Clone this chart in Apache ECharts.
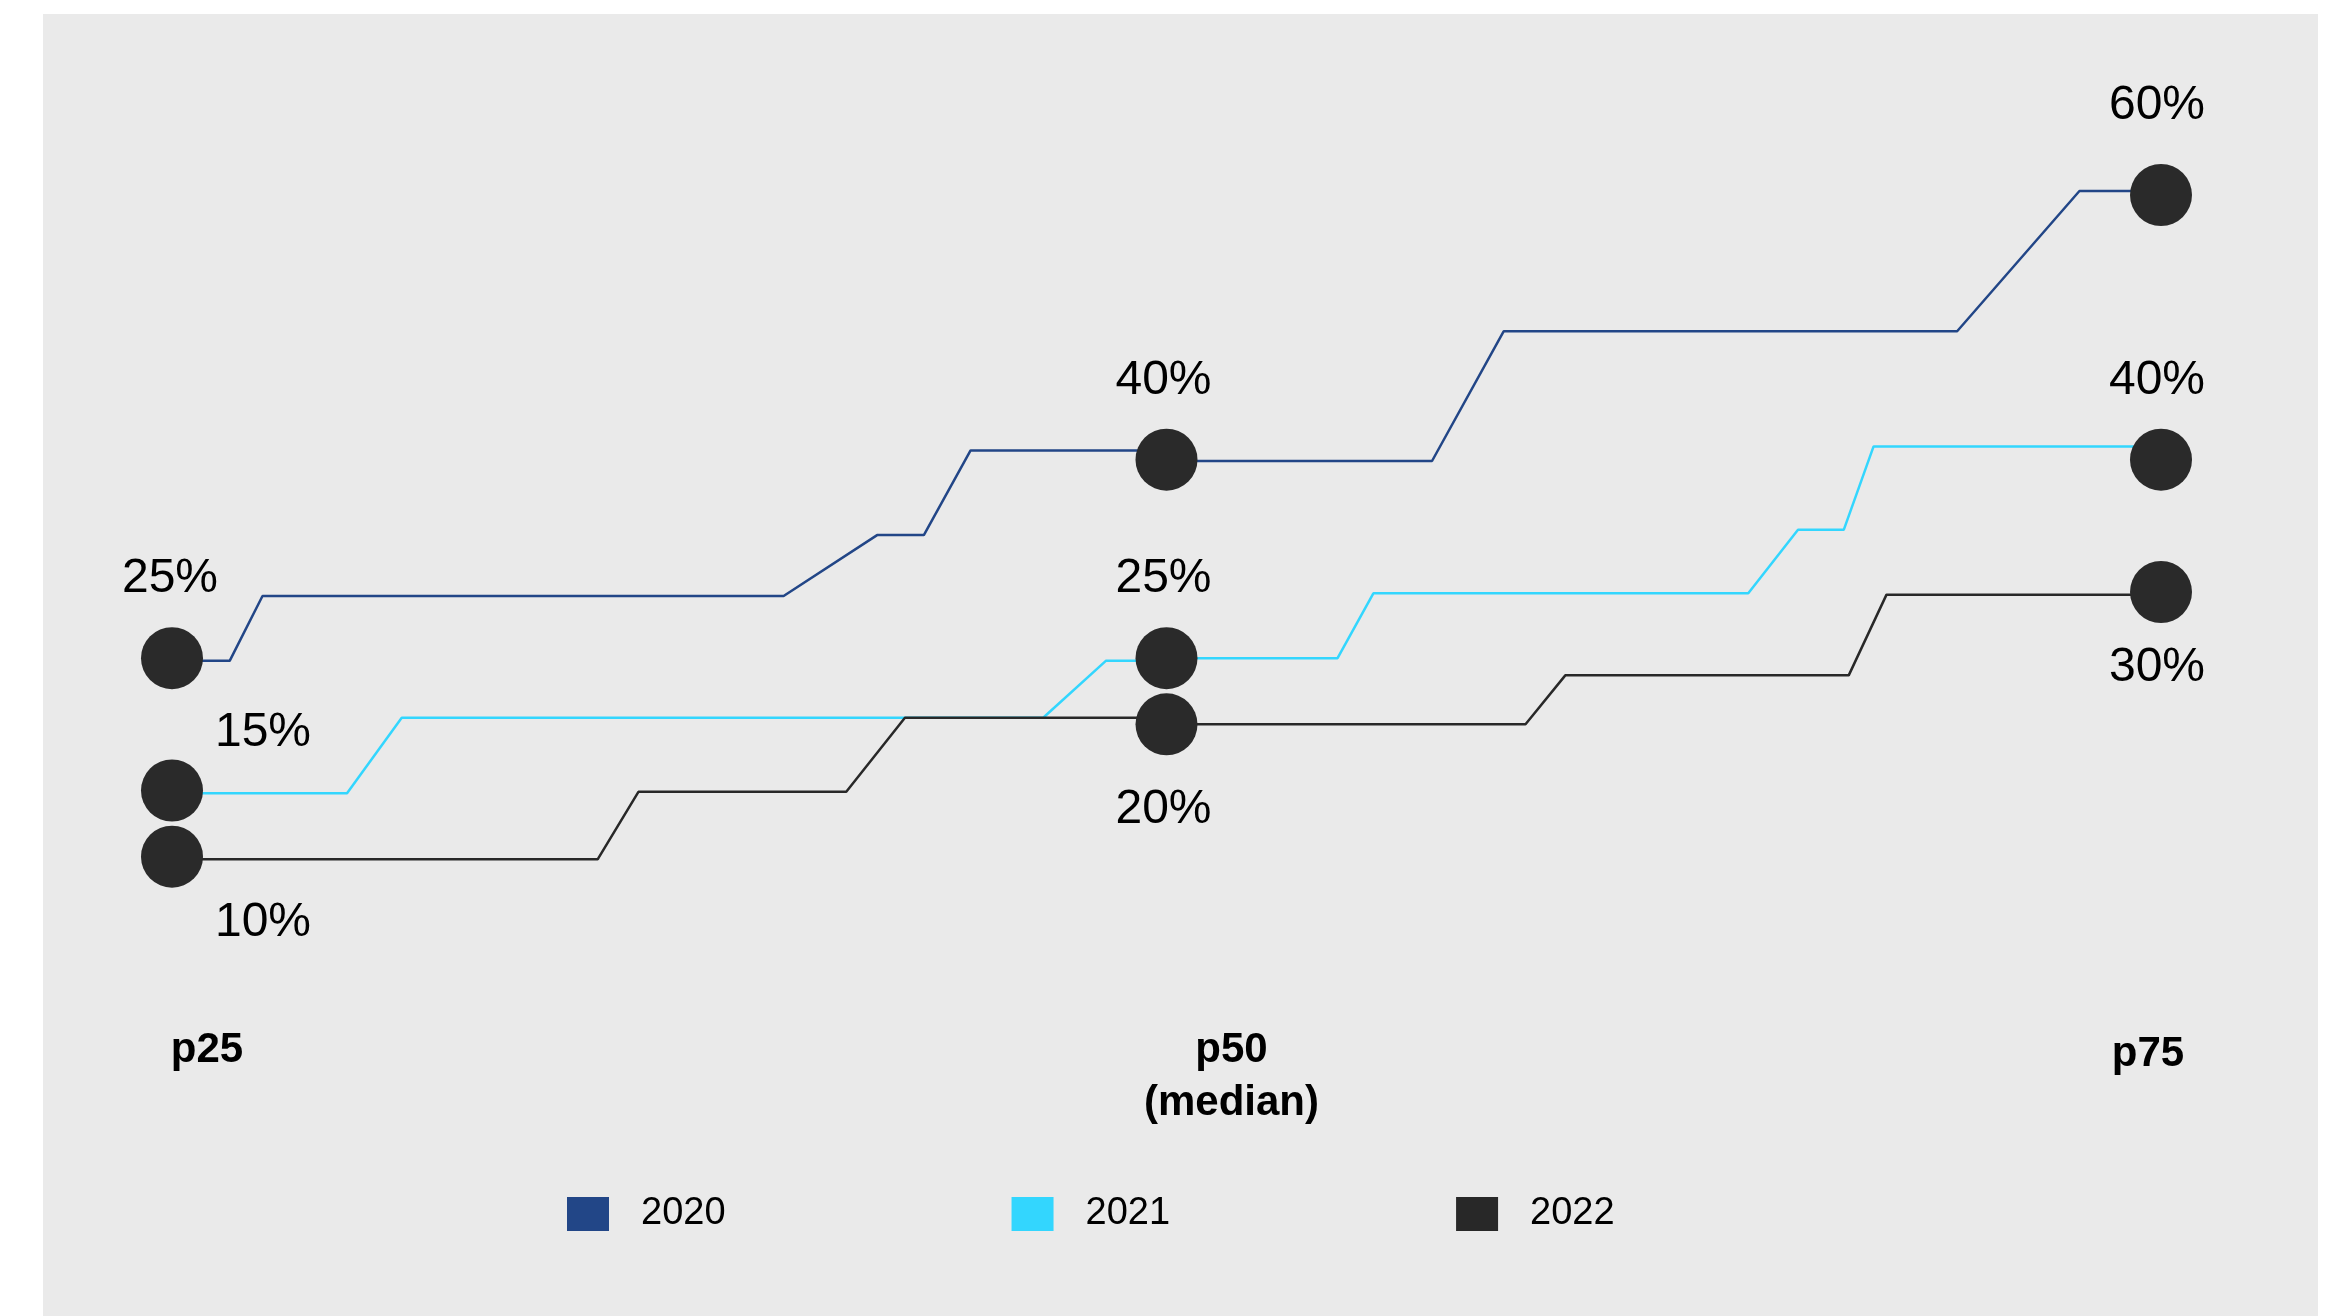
<!DOCTYPE html>
<html>
<head>
<meta charset="utf-8">
<script src="https://cdn.jsdelivr.net/npm/echarts@6/dist/echarts.min.js"></script>
<style>
  html, body { margin: 0; padding: 0; background: #ffffff; width: 2331px; height: 1316px; overflow: hidden; }
  #chart { position: absolute; left: 43px; top: 14px; width: 2275px; height: 1302px; background: #eaeaea; }
</style>
</head>
<body>
<div id="chart"></div>
<script>
// Percentile positions along the x axis (0 = p25, 1 = p50, 2 = p75)
const percentiles = [0, 1, 2];
const tickLabels = ['p25', 'p50\n(median)', 'p75'];
const years = ['2020', '2021', '2022'];

// Percentile values per year (%)
const values2020 = [25, 40, 60];
const values2021 = [15, 25, 40];
const values2022 = [10, 20, 30];

// Stepped connector paths between the percentile points: [position, %]
const path2020 = [[0, 24.8], [0.058, 24.8], [0.091, 29.7], [0.615, 29.7], [0.709, 34.3], [0.756, 34.3],
  [0.803, 40.7], [1, 40.7], [1, 39.9], [1.267, 39.9], [1.339, 49.7], [1.795, 49.7], [1.918, 60.3], [2, 60.3]];
const path2021 = [[0, 14.8], [0.176, 14.8], [0.231, 20.5], [0.876, 20.5], [0.939, 24.8], [1, 24.8],
  [1, 25], [1.172, 25], [1.208, 29.9], [1.585, 29.9], [1.635, 34.7], [1.681, 34.7], [1.711, 41.0], [2, 41.0]];
const path2022 = [[0, 9.8], [0.428, 9.8], [0.469, 14.9], [0.678, 14.9], [0.737, 20.5], [1, 20.5],
  [1, 20], [1.361, 20], [1.401, 23.7], [1.686, 23.7], [1.724, 29.8], [2, 29.8]];

const colors = ['#224687', '#33d6fe', '#282828'];
const FONT = "'Liberation Sans', Arial, Helvetica, sans-serif";

// Where each value label sits relative to its dot (text centre offset, px)
const labelOffsets = [
  [[-2, -79], [-3, -79], [-4, -89]],
  [[91, -58], [-3, -79], [-4, -79]],
  [[91, 66], [-3, 85], [-4, 76]]
];

const valueSets = [values2020, values2021, values2022];
const paths = [path2020, path2021, path2022];

const lineSeries = years.map((y, i) => ({
  name: y,
  type: 'line',
  data: paths[i],
  symbol: 'none',
  showSymbol: false,
  clip: false,
  z: 2 + i,
  itemStyle: { color: colors[i] },
  lineStyle: { color: colors[i], width: 2.5, opacity: 1 },
  emphasis: { disabled: true }
}));

const dotSeries = years.map((y, i) => ({
  name: y + '-dots',
  type: 'scatter',
  symbol: 'circle',
  symbolSize: 62,
  clip: false,
  z: 10,
  itemStyle: { color: '#2a2a2a', opacity: 1 },
  data: percentiles.map((p, j) => ({
    value: [p, valueSets[i][j]],
    label: {
      show: true,
      position: 'inside',
      offset: labelOffsets[i][j],
      align: 'center',
      verticalAlign: 'middle',
      formatter: (d) => d.value[1] + '%',
      color: '#000000',
      opacity: 1,
      fontFamily: FONT,
      fontSize: 48
    }
  })),
  emphasis: { disabled: true }
}));

const richKeys = ['l', 'm', 'r'];
const tickStyle = { fontFamily: FONT, fontSize: 42, fontWeight: 'bold', color: '#000000', lineHeight: 53 };

const chart = echarts.init(document.getElementById('chart'), null, { renderer: 'canvas' });
chart.setOption({
  animation: false,
  backgroundColor: 'transparent',
  grid: { left: 129, right: 157, top: 181, bottom: 327 },
  xAxis: {
    type: 'value',
    min: 0,
    max: 2,
    interval: 1,
    axisLine: { show: false },
    axisTick: { show: false },
    splitLine: { show: false },
    axisLabel: {
      show: true,
      showMinLabel: true,
      showMaxLabel: true,
      margin: 35,
      align: 'center',
      verticalAlign: 'top',
      formatter: (v) => {
        const idx = Math.round(v);
        const key = richKeys[idx];
        return tickLabels[idx].split('\n').map(s => '{' + key + '|' + s + '}').join('\n');
      },
      rich: {
        l: Object.assign({ padding: [0, 0, 0, 70] }, tickStyle),
        m: Object.assign({ padding: [0, 0, 0, 130] }, tickStyle),
        r: Object.assign({ padding: [7, 26, 0, 0] }, tickStyle)
      }
    }
  },
  yAxis: {
    type: 'value',
    min: 0,
    max: 60,
    show: false
  },
  legend: {
    data: years,
    left: 524,
    top: 1181,
    padding: 0,
    icon: 'rect',
    itemWidth: 42,
    itemHeight: 34,
    itemGap: 286,
    selectedMode: false,
    textStyle: { fontFamily: FONT, fontSize: 38, color: '#000000', padding: [0, 0, 0, 27] }
  },
  series: lineSeries.concat(dotSeries)
});
</script>
</body>
</html>
